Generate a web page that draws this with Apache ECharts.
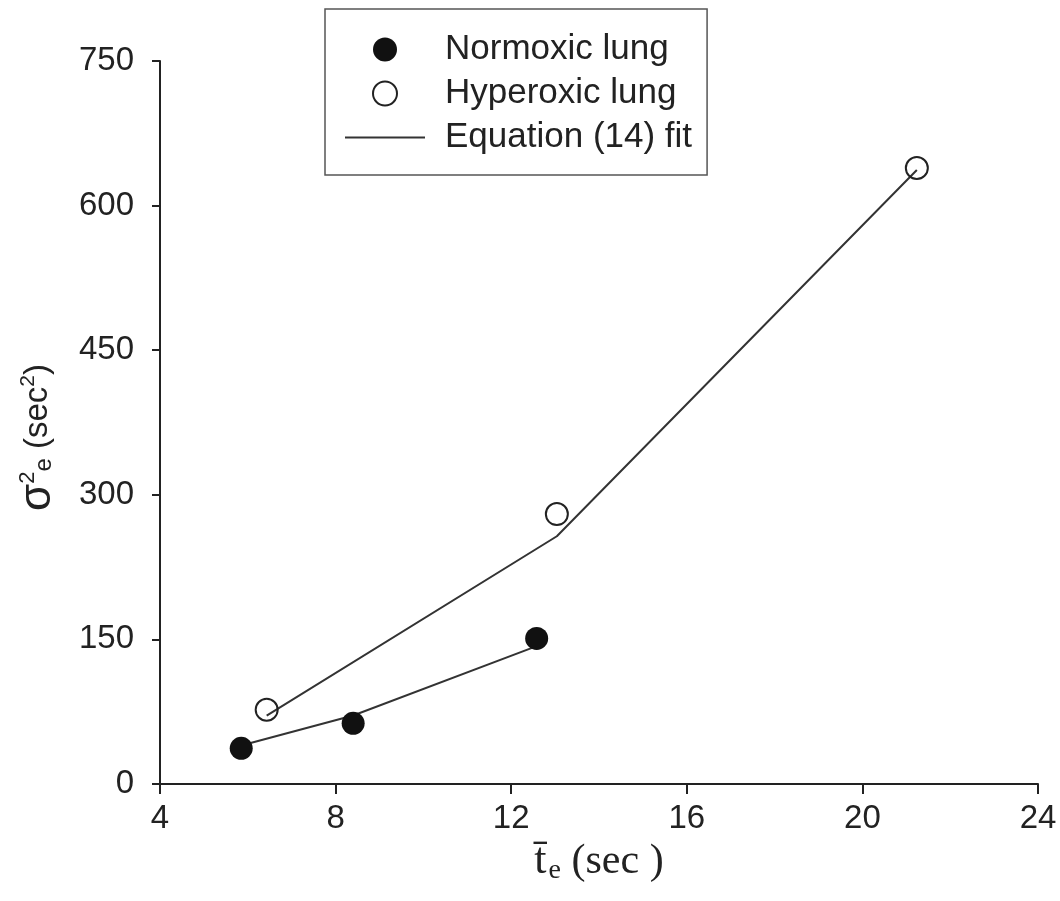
<!DOCTYPE html>
<html>
<head>
<meta charset="utf-8">
<script src="https://cdn.jsdelivr.net/npm/echarts@6/dist/echarts.min.js"></script>
<style>html,body{margin:0;padding:0;background:#fff}#c{width:1060px;height:901px}</style>
</head>
<body>
<div id="c"></div>
<script>
// Data
var normoxicX = [5.85, 8.40, 12.58];
var normoxicY = [37, 63, 151];
var hyperoxicX = [6.43, 13.04, 21.24];
var hyperoxicY = [77, 280, 639];
var fitNormoxicY = [40, 71, 143];
var fitHyperoxicY = [71, 257, 637];
var xTicks = [4, 8, 12, 16, 20, 24];
var yTicks = [0, 150, 300, 450, 600, 750];

function pairs(xs, ys) { return xs.map(function (x, i) { return [x, ys[i]]; }); }

var ink = '#222';
var sans = 'Liberation Sans, Arial, Helvetica, sans-serif';
var serif = 'Liberation Serif, Times New Roman, serif';
var chart = echarts.init(document.getElementById('c'), null, { renderer: 'canvas' });
chart.setOption({
  animation: false,
  backgroundColor: '#fff',
  grid: { left: 160, right: 22, top: 61, bottom: 117, containLabel: false },
  legend: {
    orient: 'vertical',
    left: 325, top: 9,
    padding: [23, 15, 20, 20],
    itemGap: 9,
    itemWidth: 80, itemHeight: 24,
    borderColor: '#555', borderWidth: 1.5, borderRadius: 0,
    textStyle: { fontFamily: sans, fontSize: 35, color: ink, lineHeight: 34, padding: [0, 0, 0, 15] },
    data: [
      { name: 'Normoxic lung', icon: 'circle' },
      { name: 'Hyperoxic lung', icon: 'circle' },
      { name: 'Equation (14) fit', icon: 'path://M0,0L80,0L80,2L0,2Z', itemStyle: { color: '#333', borderWidth: 0 } }
    ]
  },
  xAxis: {
    type: 'value', min: xTicks[0], max: xTicks[xTicks.length - 1], interval: 4,
    splitLine: { show: false },
    axisLine: { show: true, onZero: false, lineStyle: { color: ink, width: 2 } },
    axisTick: { show: true, length: 10, inside: false, lineStyle: { color: ink, width: 2 } },
    axisLabel: { margin: 18, fontFamily: sans, fontSize: 33, color: ink },
    name: '{t|t\u0304}{sub|e}{r| (sec )}',
    nameLocation: 'middle', nameGap: 36,
    nameTextStyle: {
      color: ink, fontFamily: serif, fontSize: 42,
      rich: {
        t: { fontFamily: serif, fontSize: 44, color: ink },
        sub: { fontFamily: serif, fontSize: 28, color: ink, padding: [18, 0, 0, 2] },
        r: { fontFamily: serif, fontSize: 42, color: ink }
      }
    }
  },
  yAxis: {
    type: 'value', min: yTicks[0], max: yTicks[yTicks.length - 1], interval: 150,
    splitLine: { show: false },
    axisLine: { show: true, onZero: false, lineStyle: { color: ink, width: 2 } },
    axisTick: { show: true, length: 8, lineStyle: { color: ink, width: 2 } },
    axisLabel: { margin: 26, fontFamily: sans, fontSize: 33, color: ink },
    name: '{s|\u03c3}{sup|2}{sub|e}{t| (sec}{sup2|2}{t|)}',
    nameLocation: 'middle', nameGap: 100,
    nameTextStyle: {
      color: ink, fontSize: 32, padding: [0, 30, 0, 0],
      rich: {
        s: { fontFamily: sans, fontSize: 44, color: ink },
        sup: { fontFamily: sans, fontSize: 22, color: ink, padding: [0, 0, 20, 0] },
        sub: { fontFamily: sans, fontSize: 24, color: ink, padding: [12, 0, 0, 0] },
        t: { fontFamily: sans, fontSize: 33, color: ink },
        sup2: { fontFamily: sans, fontSize: 21, color: ink, padding: [0, 0, 20, 0] }
      }
    }
  },
  series: [
    {
      name: 'Equation (14) fit', type: 'line', data: pairs(normoxicX, fitNormoxicY),
      symbol: 'none', lineStyle: { color: '#333', width: 2 }, itemStyle: { color: '#333' }, z: 2
    },
    {
      name: 'Equation (14) fit', type: 'line', data: pairs(hyperoxicX, fitHyperoxicY),
      symbol: 'none', lineStyle: { color: '#333', width: 2 }, itemStyle: { color: '#333' }, z: 2
    },
    {
      name: 'Normoxic lung', type: 'scatter', data: pairs(normoxicX, normoxicY),
      symbol: 'circle', symbolSize: 23, itemStyle: { color: '#111', opacity: 1 }, z: 3
    },
    {
      name: 'Hyperoxic lung', type: 'scatter', data: pairs(hyperoxicX, hyperoxicY),
      symbol: 'circle', symbolSize: 22,
      itemStyle: { color: 'rgba(255,255,255,0)', borderColor: '#222', borderWidth: 2, opacity: 1 }, z: 3
    }
  ]
});
</script>
</body>
</html>
